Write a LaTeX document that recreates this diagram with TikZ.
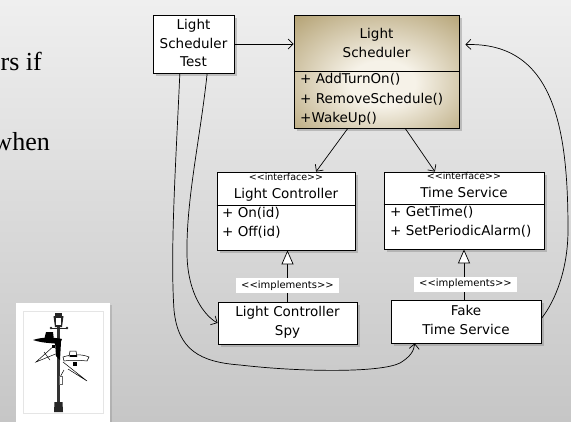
\documentclass[tikz,border=0pt]{standalone}
\usepackage{fontspec}
\setmainfont{Liberation Serif}
\newfontfamily\handfont{DejaVu Sans}
\usetikzlibrary{arrows.meta,shadows,calc}

\definecolor{bgtop}{HTML}{EFEFEF}
\definecolor{bgbottom}{HTML}{C6C6C6}
\definecolor{tanedge}{HTML}{B4A274}
\definecolor{tandeep}{HTML}{A08C5C}
\definecolor{tanmid}{HTML}{F6F2E8}

% brass-like fill of the scheduler class: light centre, tan rim
\pgfdeclareradialshading{brass}{\pgfpoint{2bp}{-6bp}}{%
  color(0bp)=(tanmid); color(10bp)=(tanmid); color(38bp)=(tanedge);
  color(50bp)=(tandeep); color(75bp)=(tandeep)}

\begin{document}
\begin{tikzpicture}[x=1pt,y=-1pt,
  hand/.style={font=\handfont\fontsize{13.5}{16}\selectfont, inner sep=0pt, anchor=base},
  tiny/.style={font=\handfont\fontsize{9.5}{11}\selectfont, inner sep=0pt, anchor=base},
  umlbox/.style={draw=black, line width=0.8pt, fill=white, inner sep=0pt,
    drop shadow={shadow xshift=2.5pt, shadow yshift=-3pt, opacity=0.4}},
  implbox/.style={fill=white, inner sep=0pt, minimum width=103pt, minimum height=15pt,
    font=\handfont\fontsize{10}{11}\selectfont},
  link/.style={line width=0.7pt, -{Straight Barb[length=5pt,width=10pt]}},
  realize/.style={line width=0.7pt, -{Triangle[open,length=14pt,width=12pt,fill=white]}},
  slide/.style={font=\fontsize{26}{30}\selectfont, inner sep=0pt}
]
\useasboundingbox (0,0) rectangle (571,421);
\clip (0,0) rectangle (571,421);

% slide background
\shade[top color=bgtop, bottom color=bgbottom] (0,0) rectangle (571,421);

% slide text running in from the left
\node[slide, anchor=base east] (line1) at (42,70) {rs if};
\node[slide, anchor=base east] (line2) at (50,150) {when};

% ---- class boxes ----
\node[umlbox, minimum width=81pt, minimum height=58pt] (lst) at (193.5,44) {};
\node[umlbox, minimum width=165pt, minimum height=113pt, shading=brass] (ls) at (376.5,71.5) {};
\node[umlbox, minimum width=138pt, minimum height=78pt] (lc) at (286,211) {};
\node[umlbox, minimum width=160pt, minimum height=77pt] (ts) at (464,210.5) {};
\node[umlbox, minimum width=139pt, minimum height=42pt] (lcs) at (287.5,323) {};
\node[umlbox, minimum width=150pt, minimum height=43pt] (fts) at (466,321.5) {};

% compartment dividers
\draw[line width=0.8pt] (ls.west |- 0,71) -- (ls.east |- 0,71);
\draw[line width=0.8pt] (lc.west |- 0,205.5) -- (lc.east |- 0,205.5);
\draw[line width=0.8pt] (ts.west |- 0,204) -- (ts.east |- 0,204);

% ---- texts ----
\node[hand] (lst1) at (193.5,29) {Light};
\node[hand] (lst2) at (193.5,48) {Scheduler};
\node[hand] (lst3) at (193.5,66) {Test};

\node[hand] (ls1) at (376.5,38) {Light};
\node[hand] (ls2) at (376.5,57) {Scheduler};
\node[hand, anchor=base west] (ls3) at (300,83) {+ AddTurnOn()};
\node[hand, anchor=base west] (ls4) at (300,103) {+ RemoveSchedule()};
\node[hand, anchor=base west] (ls5) at (300,122) {+WakeUp()};

\node[tiny] (lc0) at (286,180.5) {<<interface>>};
\node[hand] (lc1) at (286,198) {Light Controller};
\node[hand, anchor=base west] (lc2) at (222,217) {+ On(id)};
\node[hand, anchor=base west] (lc3) at (222,236) {+ Off(id)};

\node[tiny] (ts0) at (464,179) {<<interface>>};
\node[hand] (ts1) at (464,197) {Time Service};
\node[hand, anchor=base west] (ts2) at (390,216) {+ GetTime()};
\node[hand, anchor=base west] (ts3) at (390,235) {+ SetPeriodicAlarm()};

\node[hand] (lcs1) at (287.5,316.5) {Light Controller};
\node[hand] (lcs2) at (287.5,335) {Spy};

\node[hand] (fts1) at (466,315) {Fake};
\node[hand] (fts2) at (466,334) {Time Service};

% ---- connectors ----
\draw[link] (lst.east) -- (lst.east -| ls.west);
\draw[link] ($(ls.south west)!0.327!(ls.south east)$) -- ($(lc.north west)!0.717!(lc.north east)$);
\draw[link] ($(ls.south west)!0.673!(ls.south east)$) -- ($(ts.north west)!0.319!(ts.north east)$);

\draw[realize] (lcs.north) -- (lcs.north |- lc.south);
\draw[realize] (fts.north -| ts.south) -- (ts.south);
\node[implbox] (impl1) at (287.5,285.5) {<<implements>>};
\node[implbox] (impl2) at (465.5,284) {<<implements>>};

% test drives the spy and the fake
\draw[link] ($(lst.south west)!0.667!(lst.south east)$)
  .. controls (200,140) and (186,200) .. (187,255)
  .. controls (188,295) and (205,316) .. (lcs.west);
\draw[link] ($(lst.south west)!0.333!(lst.south east)$)
  .. controls (176,160) and (170,250) .. (174,310)
  .. controls (178,350) and (200,362) .. (240,365)
  .. controls (300,372) and (380,373) .. (400,363)
  .. controls (410,357) and (414,351) .. ($(fts.south west)!0.16!(fts.south east)$);

% fake time service wakes the scheduler
\draw[link] ($(fts.east)+(0,-3)$)
  .. controls (556,300) and (568,268) .. (568,230)
  .. controls (568,130) and (555,42) .. ($(ls.north east)+(6,30)$);

% ---- framed lamppost picture ----
\node[fill=white, inner sep=0pt, minimum width=94pt, minimum height=125pt,
      drop shadow={shadow xshift=1.5pt, shadow yshift=-1.5pt, opacity=0.3}] (photo) at (63,365.5) {};
\draw[black!10, line width=0.6pt] (23,311) rectangle (103,413);
% lamppost
\fill[black!80] (57,324) rectangle (60,402);
\fill[black!85] (54.5,402) -- (62.5,402) -- (63,412) -- (54,412) -- cycle;
\fill[black!85] (53.5,316) -- (63.5,316) -- (62,327) -- (55,327) -- cycle;
\fill[white] (56,318) rectangle (61,325);
\fill[black!85] (55,313) rectangle (62,316);
\draw[black!85, line width=1pt] (51,328) -- (67,328);
\fill[black!85] (51,328) circle (1.3) (67,328) circle (1.3);
% spy in black hat
\fill[black] (33,340) .. controls (42,337) and (52,337) .. (62,339) -- (60,344) .. controls (50,343) and (42,343) .. cycle;
\fill[black] (44,340) -- (46,332) -- (53,332) -- (54,340) -- cycle;
\fill[black] (55,342) -- (61,342) -- (60,360) -- (56,356) -- cycle;
\draw[black, line width=0.5pt] (55,345) -- (36,362) -- (58,353);
\draw[black, line width=0.5pt] (44,352) -- (50,360);
\fill[black] (52,345) rectangle (55,348);
% spy in white hat
\draw[black, line width=0.5pt, fill=white] (63,357) .. controls (72,354) and (82,354) .. (89,357) -- (87,361) .. controls (78,360) and (70,360) .. (64,361) -- cycle;
\draw[black, line width=0.5pt, fill=white] (69,357) -- (70,351) -- (76,351) -- (77,357);
\fill[black] (70,355) rectangle (77,357);
\draw[black, line width=0.5pt] (63,362) -- (87,381) -- (68,369);
\draw[black, line width=0.5pt] (64,370) -- (59,379) -- (62,384);
\fill[black] (73,362) rectangle (77,366);
\draw[black!60, line width=0.5pt, fill=white] (59,376) rectangle (62,384);
\end{tikzpicture}
\end{document}
